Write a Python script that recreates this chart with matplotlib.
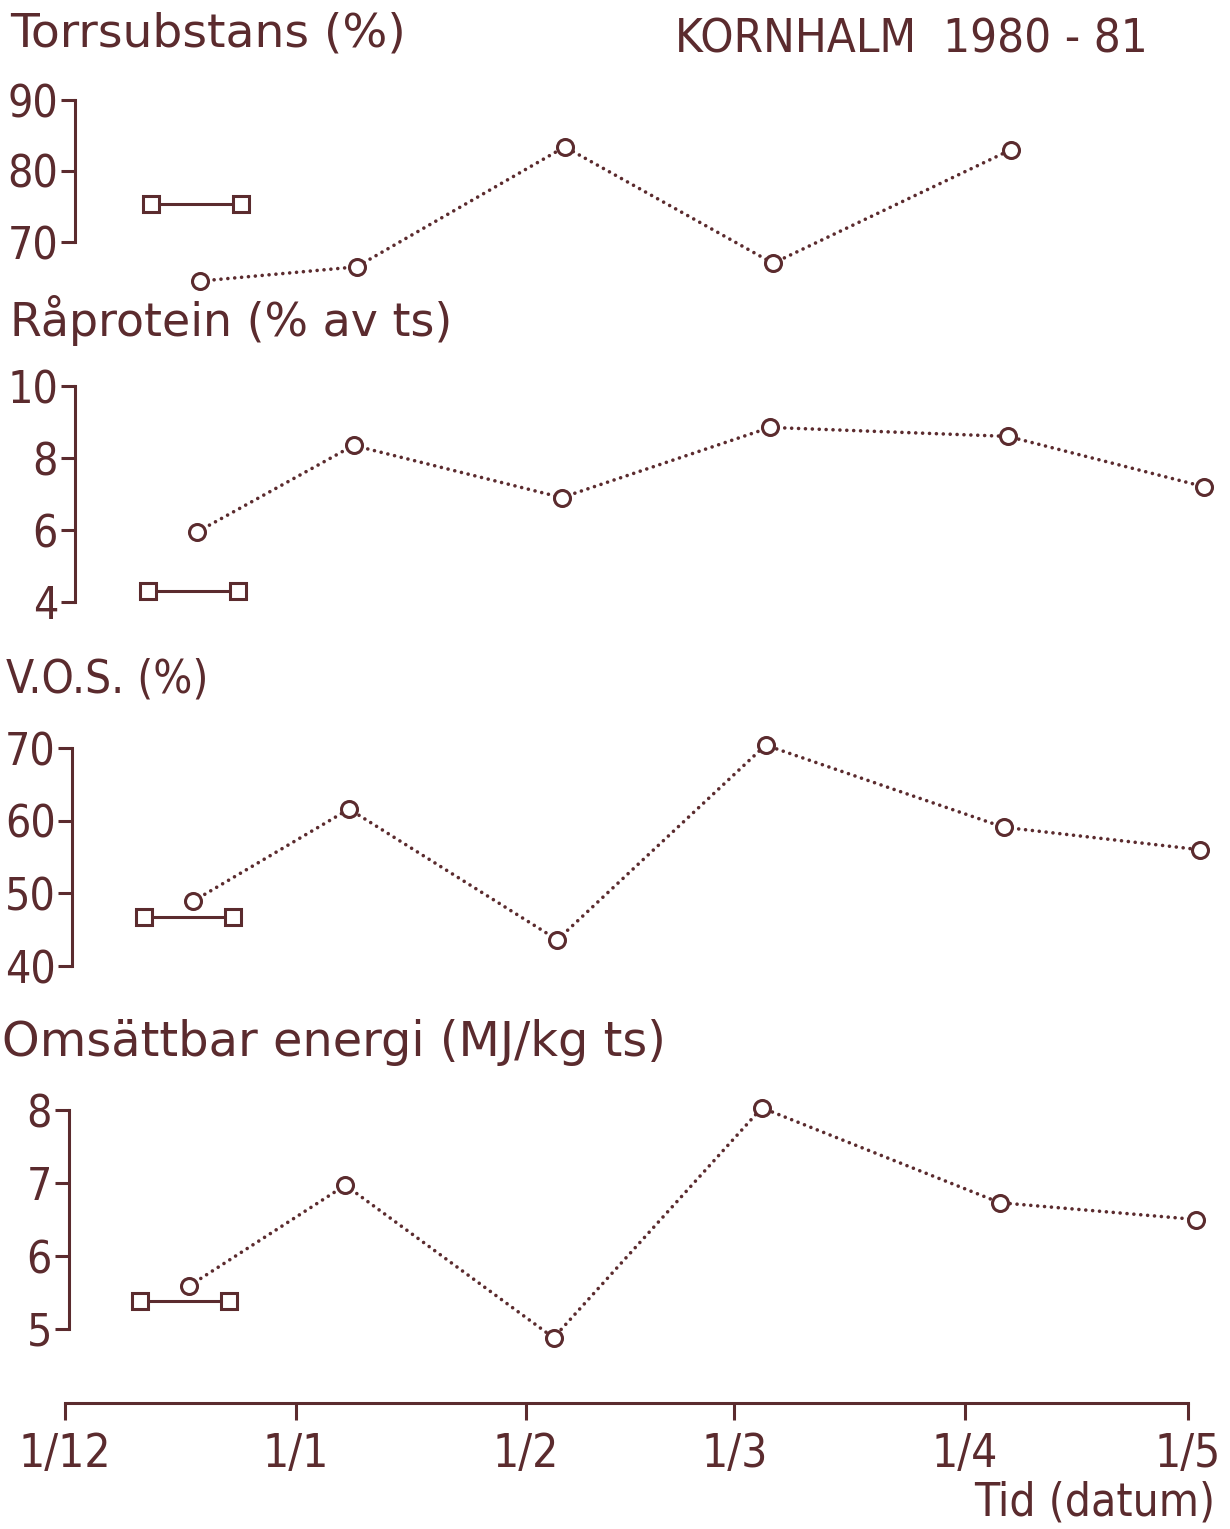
import matplotlib.pyplot as plt
import numpy as np

plt.rcParams['font.family'] = ['DejaVu Sans']
plt.rcParams['font.stretch'] = 'condensed'

ink = '#5b2b2e'

# days after 1 Dec 1980
month_ticks = [0, 31, 62, 90, 121, 151]
month_labels = ['1/12', '1/1', '1/2', '1/3', '1/4', '1/5']

circle_days = [17.8, 38.8, 66.8, 94.8, 126.8, 153.2]
square_days = [11.2, 23.2]

ts_circles = [64.5, 66.5, 83.4, 67.0, 83.0]
ts_squares = [75.4, 75.4]

rp_circles = [5.95, 8.35, 6.9, 8.85, 8.6, 7.2]
rp_squares = [4.3, 4.3]

vos_circles = [48.9, 61.6, 43.6, 70.4, 59.1, 56.0]
vos_squares = [46.7, 46.7]

me_circles = [5.59, 6.97, 4.88, 8.03, 6.73, 6.5]
me_squares = [5.38, 5.38]

W, H = 1230, 1529
fig = plt.figure(figsize=(W / 100, H / 100), dpi=100)

x0, x1 = 65, 1188  # pixel span of 1/12 .. 1/5


def add_panel(v1, p1, v2, p2, ylim):
    k = (p2 - p1) / (v2 - v1)
    top = p1 + (ylim[1] - v1) * k
    bot = p1 + (ylim[0] - v1) * k
    ax = fig.add_axes([x0 / W, 1 - bot / H, (x1 - x0) / W, (bot - top) / H])
    ax.set_xlim(0, 151)
    ax.set_ylim(*ylim)
    ax.patch.set_alpha(0)
    return ax


def style(ax, ticks, spine_x):
    for s in ['top', 'right', 'bottom']:
        ax.spines[s].set_visible(False)
    ax.spines['left'].set_position(('data', spine_x))
    ax.spines['left'].set_bounds(ticks[0], ticks[-1])
    ax.spines['left'].set_color(ink)
    ax.spines['left'].set_linewidth(2.2)
    ax.set_xticks([])
    ax.set_yticks(ticks)
    ax.set_yticklabels([str(t) for t in ticks])
    ax.tick_params(axis='y', direction='out', length=10, width=2.2, color=ink,
                   labelcolor=ink, labelsize=32, pad=2)


def draw(ax, cx, cy, sy, shift):
    cx = [d - shift for d in cx]
    sx = [d - shift for d in square_days]
    ax.plot(cx, cy, color=ink, lw=2.6, linestyle=(0, (0.01, 1.9)),
            dash_capstyle='round', marker='o', ms=11.5, mfc='white',
            mec=ink, mew=2.2, clip_on=False)
    ax.plot(sx, sy, color=ink, lw=2.2, marker='s', ms=11,
            mfc='white', mec=ink, mew=2.2, clip_on=False)


ax1 = add_panel(90, 100, 70, 242, (62, 92))
style(ax1, [70, 80, 90], 1.35)
draw(ax1, circle_days[:5], ts_circles, ts_squares, -0.4)

ax2 = add_panel(10, 386, 4, 602, (3.5, 10.5))
style(ax2, [4, 6, 8, 10], 1.3)
draw(ax2, circle_days, rp_circles, rp_squares, 0)

ax3 = add_panel(70, 748, 40, 966, (38, 72))
style(ax3, [40, 50, 60, 70], 1.0)
draw(ax3, circle_days, vos_circles, vos_squares, 0.6)

ax4 = add_panel(8, 1110, 5, 1329, (4.5, 8.5))
style(ax4, [5, 6, 7, 8], 0.5)
draw(ax4, circle_days, me_circles, me_squares, 1.1)

# bottom time axis
axt = fig.add_axes([x0 / W, 1 - 1403 / H, (x1 - x0) / W, 0.001])
axt.set_xlim(0, 151)
axt.patch.set_alpha(0)
for s in ['top', 'right', 'left']:
    axt.spines[s].set_visible(False)
axt.spines['bottom'].set_color(ink)
axt.spines['bottom'].set_linewidth(2.2)
axt.set_yticks([])
axt.set_xticks(month_ticks)
axt.set_xticklabels(month_labels)
axt.tick_params(axis='x', direction='out', length=12, width=2.2, color=ink,
                labelcolor=ink, labelsize=33, pad=9)


def label(x, y, s, ha='left', size=33, stretch='condensed'):
    fig.text(x / W, 1 - y / H, s, ha=ha, va='center', color=ink,
             fontsize=size, fontstretch=stretch)


label(10, 34, 'Torrsubstans (%)', size=34, stretch='normal')
label(675, 40, 'KORNHALM  1980 - 81', size=34)
label(10, 320, 'Råprotein (% av ts)', size=33, stretch='normal')
label(6, 680, 'V.O.S. (%)', size=33)
label(2, 1043, 'Omsättbar energi (MJ/kg ts)', size=34.5, stretch='normal')
label(1215, 1503, 'Tid (datum)', ha='right', size=33)

fig.savefig('out.png', dpi=100, facecolor='white')
